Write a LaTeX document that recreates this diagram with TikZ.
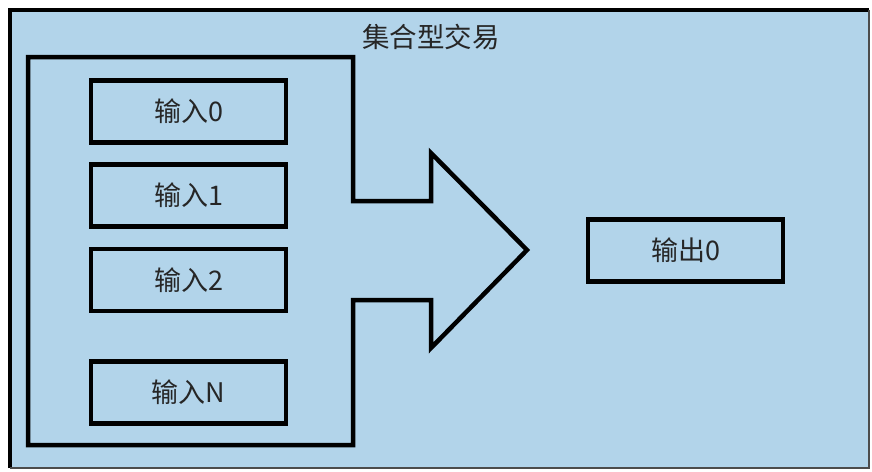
\documentclass[tikz,border=0pt]{standalone}
\usepackage{fontspec}
\setmainfont{Noto Sans CJK SC}
\begin{document}
\begin{tikzpicture}[x=1pt,y=-1pt,
  boxstyle/.style={draw=black,line width=4.5pt,fill=none,minimum width=195pt,minimum height=62pt,inner sep=0pt,font=\fontsize{27}{30}\selectfont,text=black!85},
  outline/.style={draw=black,line width=4.5pt,line join=miter}]
\useasboundingbox (0,0) rectangle (872,471);
\fill[white] (0,0) rectangle (872,471);
\fill[fill={rgb,255:red,178;green,212;blue,234}] (10,10) rectangle (869,468);
\draw[line width=4pt] (10,468) -- (10,10) -- (869,10);
\draw[line width=1.2pt,black!70] (869,10) -- (869,468) -- (10,468);
\node[font=\fontsize{27.5}{30}\selectfont,text=black!85] (title) at (431,37) {集合型交易};
\draw[outline] (28,57) -- (353,57) -- (353,201) -- (431,201) -- (431,153) -- (527,250) -- (431,348) -- (431,300) -- (353,300) -- (353,445) -- (28,445) -- cycle;
\node[boxstyle] (in0) at (188.5,111.5) {输入0};
\node[boxstyle] (in1) at (188.5,195.5) {输入1};
\node[boxstyle] (in2) at (188.5,280) {输入2};
\node[boxstyle] (inN) at (188.5,392.5) {输入N};
\node[boxstyle] (out0) at (685.5,250.5) {输出0};
\end{tikzpicture}
\end{document}
